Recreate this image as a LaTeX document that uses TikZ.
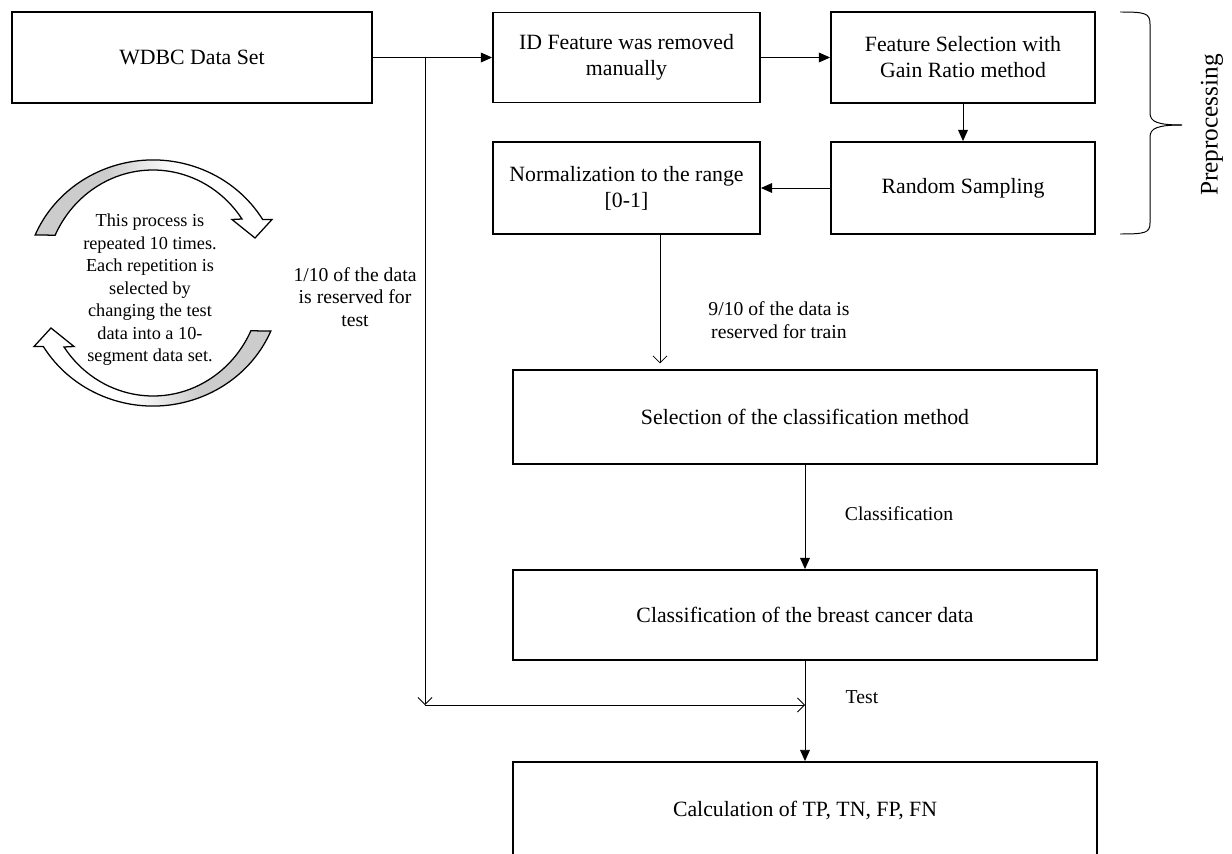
\documentclass[tikz,border=0pt]{standalone}
\usepackage{fontspec}
\setmainfont{Liberation Serif}
\usetikzlibrary{arrows.meta}

\pgfdeclarehorizontalshading{loopfade}{100bp}{color(0bp)=(gray!40); color(40bp)=(gray!40); color(55bp)=(white); color(100bp)=(white)}

\begin{document}
\begin{tikzpicture}[x=0.025cm, y=0.025cm,
    stage/.style={draw, line width=1.3pt, inner sep=2pt, align=center, font=\fontsize{15.5}{18.5}\selectfont},
    note/.style={align=center, inner sep=0pt, font=\fontsize{14}{16}\selectfont},
    fillarrow/.style={line width=0.6pt, -{Triangle[length=8pt,width=7pt]}},
    openarrow/.style={line width=0.6pt, -{Straight Barb[length=5pt,width=10pt]}},
    loop/.style={draw, line width=0.9pt, shade, shading=loopfade}]
      \useasboundingbox (0,0) rectangle (1232,-854);

      \node[stage, minimum width=9cm, minimum height=2.275cm] (wdbc) at (192,-57.5) {WDBC Data Set};
      \node[stage, minimum width=6.675cm, minimum height=2.25cm] (idrem) at (626.5,-57.5) {ID Feature was removed\\manually};
      \node[stage, minimum width=6.6cm, minimum height=2.275cm] (featsel) at (963,-57.5) {Feature Selection with\\Gain Ratio method};
      \node[stage, minimum width=6.6cm, minimum height=2.3cm] (sampling) at (963,-188) {Random Sampling};
      \node[stage, minimum width=6.675cm, minimum height=2.3cm] (norm) at (626.5,-188) {Normalization to the range\\{[0-1]}};
      \node[stage, minimum width=14.6cm, minimum height=2.35cm] (sel) at (805,-417) {Selection of the classification method};
      \node[stage, minimum width=14.6cm, minimum height=2.25cm] (cls) at (805,-615) {Classification of the breast cancer data};
      \node[stage, minimum width=14.6cm, minimum height=2.4cm] (calc) at (805,-810) {Calculation of TP, TN, FP, FN};

      \node[note] (testlbl) at (355,-297) {1/10 of the data\\is reserved for\\test};
      \node[note] (trainlbl) at (779,-320) {9/10 of the data is\\reserved for train};
      \node[note] (clslbl) at (899,-514) {Classification};
      \node[note] (tstlbl) at (862,-697) {Test};
      \node[rotate=90, inner sep=0pt, font=\fontsize{18}{20}\selectfont] (prep) at (1212,-125) {Preprocessing};

      \coordinate (split) at (425,-57.5);
      \coordinate (bend) at (425,-705);
      \coordinate (join) at (cls.south |- bend);
      \coordinate (trainx) at (660,0);

      \draw[fillarrow] (wdbc) -- (idrem);
      \draw[fillarrow] (idrem) -- (featsel);
      \draw[fillarrow] (featsel) -- (sampling);
      \draw[fillarrow] (sampling) -- (norm);
      \draw[openarrow, shorten >=4pt] (norm.south -| trainx) -- (sel.north -| trainx);
      \draw[fillarrow] (sel) -- (cls);
      \draw[fillarrow] (cls) -- (calc);
      \draw[openarrow] (split) -- (bend);
      \draw[openarrow] (bend) -- (join);

      % brace
      \draw[line width=0.7pt] (1120,-12) .. controls (1145,-12) and (1150,-13) .. (1150,-24) -- (1150,-113)
        .. controls (1150,-122) and (1158,-125) .. (1182,-125);
      \draw[line width=0.7pt] (1182,-125) .. controls (1158,-125) and (1150,-128) .. (1150,-137) -- (1150,-223)
        .. controls (1150,-233) and (1145,-234) .. (1120,-234);

      % repeat loop
      \foreach \turn in {0,180} {
        \begin{scope}[rotate around={\turn:(153,-283)}]
          \path[loop, shading angle=\turn] (35.2,-234.9) arc[start angle=157, end angle=31, x radius=128, y radius=123]
            -- (272,-219.5) -- (255,-238) -- (232,-219.5) -- (242,-219)
            arc[start angle=34.5, end angle=155, x radius=108, y radius=113] -- cycle;
        \end{scope}
      }
      \node[align=center, inner sep=0pt, font=\fontsize{13}{16}\selectfont] (looptxt) at (150,-290)
        {This process is\\repeated 10 times.\\Each repetition is\\selected by\\changing the test\\data into a 10-\\segment data set.};
\end{tikzpicture}
\end{document}
